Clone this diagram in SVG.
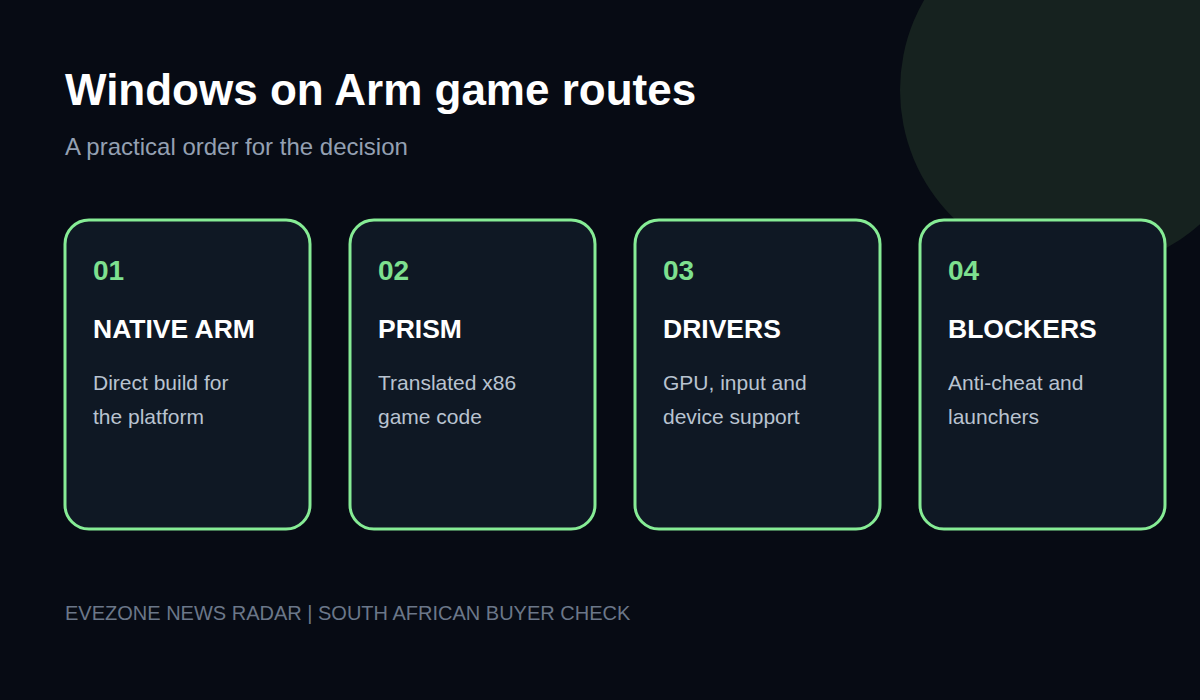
<svg xmlns="http://www.w3.org/2000/svg" width="1200" height="700" viewBox="0 0 1200 700">
<style>
.card{fill:#0f1824;stroke:#86ec95;stroke-width:3}
.num{font-family:"Liberation Sans",Arial,sans-serif;font-size:28px;font-weight:bold;fill:#7ee08f}
.ttl{font-family:"Liberation Sans",Arial,sans-serif;font-size:26.5px;font-weight:bold;fill:#ffffff}
.dsc{font-family:"Liberation Sans",Arial,sans-serif;font-size:21px;fill:#b9c3d0}
</style>
<rect width="1200" height="700" fill="#070b14"/>
<circle cx="1080" cy="90" r="180" fill="#16221f"/>
<text x="65" y="105" font-family="Liberation Sans,Arial,sans-serif" font-size="44" font-weight="bold" fill="#ffffff">Windows on Arm game routes</text>
<text x="65" y="155" font-family="Liberation Sans,Arial,sans-serif" font-size="24" fill="#94a0b2">A practical order for the decision</text>
<g id="connectors"></g>
<g id="node1">
<rect class="card" x="65" y="220" width="245" height="309" rx="24"/>
<text class="num" x="93" y="280">01</text>
<text class="ttl" x="93" y="338">NATIVE ARM</text>
<text class="dsc" x="93" y="390">Direct build for</text>
<text class="dsc" x="93" y="424">the platform</text>
</g>
<g id="node2">
<rect class="card" x="350" y="220" width="245" height="309" rx="24"/>
<text class="num" x="378" y="280">02</text>
<text class="ttl" x="378" y="338">PRISM</text>
<text class="dsc" x="378" y="390">Translated x86</text>
<text class="dsc" x="378" y="424">game code</text>
</g>
<g id="node3">
<rect class="card" x="635" y="220" width="245" height="309" rx="24"/>
<text class="num" x="663" y="280">03</text>
<text class="ttl" x="663" y="338">DRIVERS</text>
<text class="dsc" x="663" y="390">GPU, input and</text>
<text class="dsc" x="663" y="424">device support</text>
</g>
<g id="node4">
<rect class="card" x="920" y="220" width="245" height="309" rx="24"/>
<text class="num" x="948" y="280">04</text>
<text class="ttl" x="948" y="338">BLOCKERS</text>
<text class="dsc" x="948" y="390">Anti-cheat and</text>
<text class="dsc" x="948" y="424">launchers</text>
</g>
<text x="65" y="620" font-family="Liberation Sans,Arial,sans-serif" font-size="20" fill="#6b7789">EVEZONE NEWS RADAR | SOUTH AFRICAN BUYER CHECK</text>
</svg>
